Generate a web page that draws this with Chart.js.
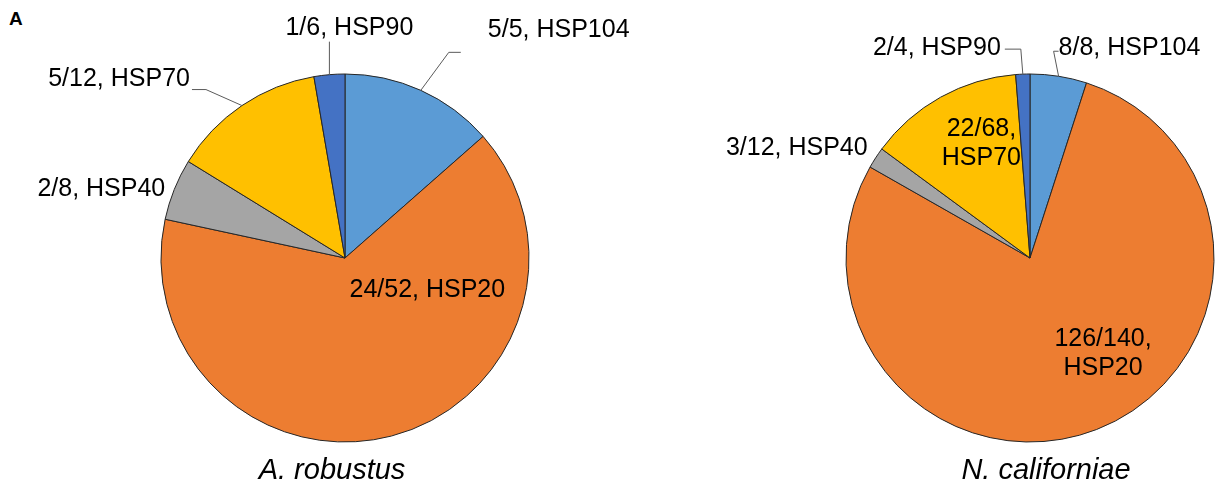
<!DOCTYPE html>
<html>
<head>
<meta charset="utf-8">
<script src="https://cdn.jsdelivr.net/npm/chart.js@4/dist/chart.umd.min.js"></script>
<style>
  html, body { margin: 0; padding: 0; background: #fff; }
  .page { position: relative; width: 1229px; height: 488px; overflow: hidden; }
  .box { position: absolute; top: 0; height: 488px; }
  .panel-tag { position: absolute; left: 9px; top: 8px; font: bold 19px "Liberation Sans", Arial, sans-serif; color: #000; }
</style>
</head>
<body>
<div class="page">
  <div class="panel-tag">A</div>
  <div class="box" style="left:0;width:690px"><canvas id="left"></canvas></div>
  <div class="box" style="left:690px;width:539px"><canvas id="right"></canvas></div>
</div>
<script>
// slice order as in the figure, clockwise from 12 o'clock
const categories = ['HSP104', 'HSP20', 'HSP40', 'HSP70', 'HSP90'];
const robustusCounts = [5, 24, 2, 5, 1];
const robustusTotals = [5, 52, 8, 12, 6];
const californiaeCounts = [8, 126, 3, 22, 2];
const californiaeTotals = [8, 140, 12, 68, 4];
const sliceColors = ['#5B9BD5', '#ED7D31', '#A5A5A5', '#FFC000', '#4472C4'];

const FONT = '25px "Liberation Sans", Arial, sans-serif';

// label placement for each slice (same order as categories)
// inside: t = fraction along the slice angle, rf = fraction of radius
// outside: anchor on the rim at mid angle, leader goes through pts, text at tx/ty
const robustusLabels = [
  { pts: [[28, -38], [40, -38]], tx: 67, ty: -60, align: 'left' },
  { inside: true, t: 0.268, rf: 0.48, oneLine: true },
  { pts: [], tx: -9, ty: 0, align: 'right' },
  { pts: [[-36, -16], [-50, -16]], tx: -52, ty: -26, align: 'right' },
  { pts: [[0, -33]], tx: 20, ty: -47, align: 'center' }
];
const californiaeLabels = [
  { pts: [[-5, -25], [0, -25]], tx: 0, ty: -28, align: 'left' },
  { inside: true, t: 0.443, rf: 0.655 },
  { pts: [], tx: -8, ty: -10, align: 'right' },
  { inside: true, t: 0.624, rf: 0.677 },
  { pts: [[-2, -25], [-18, -25]], tx: -22, ty: -26, align: 'right' }
];

function labelLines(counts, totals, i, oneLine) {
  const frac = counts[i] + '/' + totals[i] + ',';
  return oneLine ? [frac + ' ' + categories[i]] : [frac, categories[i]];
}

const pieLabels = {
  id: 'pieLabels',
  afterDatasetsDraw(chart, args, opts) {
    const ctx = chart.ctx;
    const arcs = chart.getDatasetMeta(0).data;
    ctx.save();
    ctx.font = FONT;
    ctx.fillStyle = '#000';
    ctx.textBaseline = 'middle';
    arcs.forEach((arc, i) => {
      const p = arc.getProps(['x', 'y', 'startAngle', 'endAngle', 'outerRadius'], true);
      const cfg = opts.layout[i];
      if (cfg.inside) {
        const a = p.startAngle + cfg.t * (p.endAngle - p.startAngle);
        const r = cfg.rf * p.outerRadius;
        const cx = p.x + r * Math.cos(a), cy = p.y + r * Math.sin(a);
        const lines = labelLines(opts.counts, opts.totals, i, cfg.oneLine);
        ctx.textAlign = 'center';
        lines.forEach((ln, k) => ctx.fillText(ln, cx, cy + (k - (lines.length - 1) / 2) * 29));
        return;
      }
      const mid = (p.startAngle + p.endAngle) / 2;
      const ex = p.x + p.outerRadius * Math.cos(mid), ey = p.y + p.outerRadius * Math.sin(mid);
      if (cfg.pts.length) {
        ctx.strokeStyle = '#5a5a5a';
        ctx.lineWidth = 1;
        ctx.beginPath();
        ctx.moveTo(ex, ey);
        cfg.pts.forEach(q => ctx.lineTo(ex + q[0], ey + q[1]));
        ctx.stroke();
      }
      ctx.textAlign = cfg.align;
      ctx.fillText(labelLines(opts.counts, opts.totals, i, true)[0], ex + cfg.tx, ey + cfg.ty);
    });
    // species caption under the pie
    const c = arcs[0].getProps(['x', 'y', 'outerRadius'], true);
    ctx.font = 'italic 29px "Liberation Sans", Arial, sans-serif';
    ctx.textAlign = 'center';
    ctx.textBaseline = 'alphabetic';
    ctx.fillText(opts.caption, c.x + opts.captionDx, c.y + c.outerRadius + 37);
    ctx.restore();
  }
};

// padding so that the pie sits at (cx, cy) with radius r inside a w x h box
function padFor(cx, cy, r, w, h) {
  const size = 2 * r + 1;
  const left = cx - size / 2, top = cy - size / 2;
  return { left: left, top: top, right: w - left - size, bottom: h - top - size };
}

function makePie(id, counts, totals, layout, caption, captionDx, pad) {
  new Chart(document.getElementById(id), {
    type: 'pie',
    data: {
      labels: categories,
      datasets: [{
        data: counts,
        backgroundColor: sliceColors,
        borderColor: '#262626',
        borderWidth: 1,
        hoverOffset: 0
      }]
    },
    options: {
      responsive: true,
      maintainAspectRatio: false,
      animation: false,
      layout: { padding: pad },
      plugins: {
        legend: { display: false },
        tooltip: { enabled: false },
        pieLabels: { counts: counts, totals: totals, layout: layout, caption: caption, captionDx: captionDx }
      }
    },
    plugins: [pieLabels]
  });
}

makePie('left', robustusCounts, robustusTotals, robustusLabels, 'A. robustus', -13, padFor(345, 258, 184, 690, 488));
makePie('right', californiaeCounts, californiaeTotals, californiaeLabels, 'N. californiae', 16, padFor(340, 258, 184, 539, 488));
</script>
</body>
</html>
